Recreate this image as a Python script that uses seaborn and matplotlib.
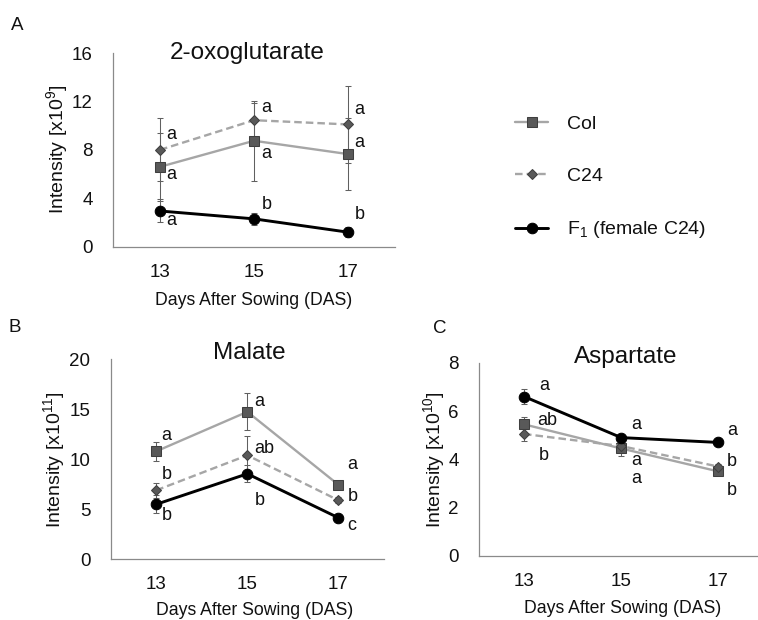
import matplotlib.pyplot as plt
from matplotlib.lines import Line2D
import numpy as np
import pandas as pd
import seaborn as sns

# ---------------- data ----------------
das = ['13', '15', '17']
genotypes = ['Col', 'C24', 'F1']
legend_labels = ['Col', 'C24', r'$\mathregular{F_1}$ (female C24)']

# 2-oxoglutarate, intensity x10^9
oxo_col = [6.6, 8.75, 7.65]
oxo_c24 = [8.0, 10.45, 10.1]
oxo_f1 = [2.95, 2.3, 1.2]
oxo_col_err = [2.8, 3.3, 3.0]
oxo_c24_err = [2.6, 1.4, 3.2]
oxo_f1_err = [0.95, 0.5, 0.4]

# malate, intensity x10^11
mal_col = [10.8, 14.75, 7.45]
mal_c24 = [6.9, 10.4, 5.9]
mal_f1 = [5.5, 8.55, 4.15]
mal_col_err = [0.95, 1.85, 0.3]
mal_c24_err = [0.75, 1.9, 0.3]
mal_f1_err = [0.9, 0.85, 0.2]

# aspartate, intensity x10^10
asp_col = [5.45, 4.45, 3.5]
asp_c24 = [5.05, 4.55, 3.7]
asp_f1 = [6.6, 4.9, 4.7]
asp_col_err = [0.3, 0.3, 0.1]
asp_c24_err = [0.3, 0.15, 0.1]
asp_f1_err = [0.3, 0.1, 0.1]

# significance letters: (x position, y value, letter)
oxo_letters = [(0.064, 9.3, 'a'), (0.064, 5.97, 'a'), (0.064, 2.15, 'a'),
               (1.08, 11.5, 'a'), (1.08, 7.7, 'a'), (1.08, 3.5, 'b'),
               (2.07, 11.3, 'a'), (2.07, 8.6, 'a'), (2.07, 2.65, 'b')]
mal_letters = [(0.058, 12.4, 'a'), (0.058, 8.46, 'b'), (0.058, 4.38, 'b'),
               (1.078, 15.8, 'a'), (1.078, 11.1, 'ab'), (1.078, 5.9, 'b'),
               (2.10, 9.5, 'a'), (2.10, 6.3, 'b'), (2.10, 3.4, 'c')]
asp_letters = [(0.154, 7.05, 'a'), (0.134, 5.6, 'ab'), (0.154, 4.14, 'b'),
               (1.10, 5.43, 'a'), (1.10, 3.59, 'a\na'),
               (2.09, 5.2, 'a'), (2.09, 3.93, 'b'), (2.09, 2.7, 'b')]

# ---------------- styles ----------------
line_color = {'Col': '#a6a6a6', 'C24': '#a6a6a6', 'F1': '#000000'}
marker_face = {'Col': '#595959', 'C24': '#595959', 'F1': '#000000'}
marker_edge = {'Col': '#3f3f3f', 'C24': '#3f3f3f', 'F1': '#000000'}
marker_shape = {'Col': 's', 'C24': 'D', 'F1': 'o'}
marker_size = {'Col': 7.7, 'C24': 5.6, 'F1': 7.6}
line_style = {'Col': '-', 'C24': (0, (3.2, 1.7)), 'F1': '-'}
line_width = {'Col': 1.7, 'C24': 1.7, 'F1': 2.1}

TXT = '#111111'
AXC = '#8a8a8a'

sns.set_style('white')
plt.rcParams['font.family'] = ['Liberation Sans', 'DejaVu Sans']
plt.rcParams['mathtext.fontset'] = 'custom'
plt.rcParams['mathtext.rm'] = 'Liberation Sans'
plt.rcParams['mathtext.it'] = 'Liberation Sans:italic'
plt.rcParams['mathtext.bf'] = 'Liberation Sans:bold'
plt.rcParams['text.color'] = TXT

W, H = 758, 620
fig = plt.figure(figsize=(W / 100, H / 100), dpi=100)


def px_axes(left, top, right, bottom):
    return fig.add_axes([left / W, 1 - bottom / H, (right - left) / W, (bottom - top) / H])


def draw_panel(ax, series, errors, yticks, title, title_pos, ylabel, ylab_x,
               xlab_pos, letters, xmin=-0.5):
    pos = np.arange(len(das))
    df = pd.DataFrame({
        'pos': np.tile(pos, len(genotypes)),
        'value': np.concatenate(series),
        'genotype': np.repeat(genotypes, len(das)),
    })
    for g, err in zip(genotypes, errors):
        sub = df[df['genotype'] == g]
        ax.errorbar(sub['pos'], sub['value'], yerr=err, fmt='none', ecolor='#606060',
                    elinewidth=0.75, capsize=2, capthick=0.75, zorder=1.5)
        sns.lineplot(data=sub, x='pos', y='value', ax=ax, errorbar=None,
                     color=line_color[g], linestyle=line_style[g], lw=line_width[g],
                     marker=marker_shape[g], markersize=marker_size[g],
                     markerfacecolor=marker_face[g], markeredgecolor=marker_edge[g],
                     markeredgewidth=0.75, zorder=2)

    ax.set_xlim(xmin, 2.5)
    ax.set_ylim(yticks[0], yticks[-1])
    ax.set_xticks(pos, das)
    ax.set_yticks(yticks)
    sns.despine(ax=ax)
    for s in ['left', 'bottom']:
        ax.spines[s].set_color(AXC)
        ax.spines[s].set_linewidth(0.9)
    ax.tick_params(axis='x', length=0, pad=12.3, labelsize=13.5, labelcolor=TXT)
    ax.tick_params(axis='y', length=2.6, width=0.8, color=AXC, direction='out',
                   pad=12, labelsize=13.5, labelcolor=TXT)

    ax.set_xlabel('Days After Sowing (DAS)', fontsize=12.7, color=TXT)
    ax.xaxis.set_label_coords(xlab_pos[0], xlab_pos[1])
    ax.xaxis.label.set_va('top')
    ax.set_ylabel(ylabel, fontsize=14, color=TXT)
    ax.yaxis.set_label_coords(ylab_x, 0.5)

    ax.text(title_pos[0], title_pos[1], title, transform=ax.transAxes,
            ha='center', va='baseline', fontsize=17.5, color=TXT)

    for x, y, t in letters:
        ax.text(x, y, t, ha='left', va='center', fontsize=13, color=TXT,
                linespacing=1.1)


ax_a = px_axes(113, 53, 395, 246.7)
ax_b = px_axes(110.7, 359.3, 384, 559.3)
ax_c = px_axes(479, 362.7, 767, 556)

draw_panel(ax_a, [oxo_col, oxo_c24, oxo_f1], [oxo_col_err, oxo_c24_err, oxo_f1_err],
           [0, 4, 8, 12, 16], '2-oxoglutarate', (0.477, 0.967),
           r'Intensity [x10$\mathregular{^{9}}$]', -0.152, (0.5, -0.232), oxo_letters)
draw_panel(ax_b, [mal_col, mal_c24, mal_f1], [mal_col_err, mal_c24_err, mal_f1_err],
           [0, 5, 10, 15, 20], 'Malate', (0.508, 1.0),
           r'Intensity [x10$\mathregular{^{11}}$]', -0.16, (0.528, -0.212), mal_letters)
draw_panel(ax_c, [asp_col, asp_c24, asp_f1], [asp_col_err, asp_c24_err, asp_f1_err],
           [0, 2, 4, 6, 8], 'Aspartate', (0.509, 0.998),
           r'Intensity [x10$\mathregular{^{10}}$]', -0.111, (0.5, -0.228), asp_letters,
           xmin=-0.463)

# panel letters
fig.text(11 / W, 1 - 30 / H, 'A', fontsize=13.5, va='baseline', color=TXT)
fig.text(8 / W, 1 - 331.7 / H, 'B', fontsize=13.5, va='baseline', color=TXT)
fig.text(433 / W, 1 - 333.3 / H, 'C', fontsize=13.5, va='baseline', color=TXT)

# legend
handles = [Line2D([], [], color=line_color[g], linestyle=line_style[g], lw=line_width[g],
                  marker=marker_shape[g], markersize=marker_size[g],
                  markerfacecolor=marker_face[g], markeredgecolor=marker_edge[g],
                  markeredgewidth=0.75) for g in genotypes]
fig.legend(handles, legend_labels, loc='upper left', bbox_to_anchor=(515 / W, 1 - 115 / H),
           frameon=False, fontsize=14, handlelength=1.7, handletextpad=0.95,
           labelspacing=1.78, borderpad=0, borderaxespad=0)

fig.savefig('out.png', dpi=100, facecolor='white')
